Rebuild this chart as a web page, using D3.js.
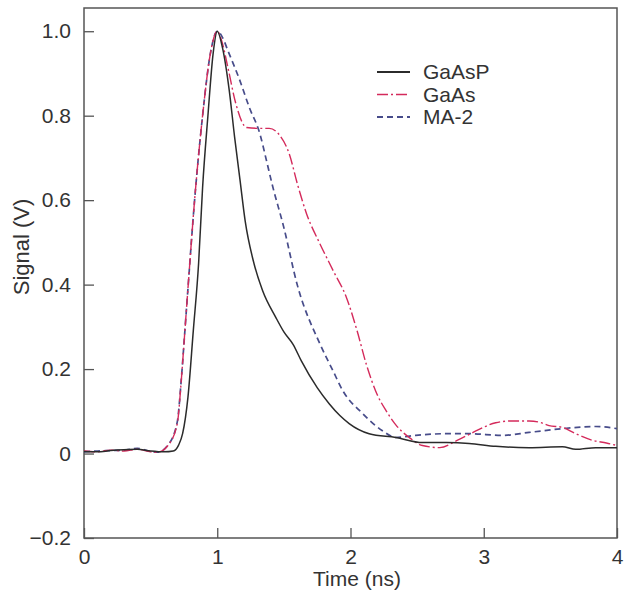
<!DOCTYPE html>
<html>
<head>
    <meta charset="utf-8">
    <title>Signal vs Time</title>
    <style>
        body { margin: 0; background: #fff; }
        svg { display: block; font-family: "Liberation Sans", Arial, Helvetica, sans-serif; }
        .frame { fill: none; stroke: #555; stroke-width: 1.5px; }
        .tick line { stroke: #555; stroke-width: 1.3px; }
        .tick text { fill: #333; font-size: 21px; }
        .domain { display: none; }
    </style>
</head>
<body>
<script src="https://d3js.org/d3.v7.min.js"></script>
<script>
    // time axis (ns) and signal values
    const gaasp_t = [0, 0.1, 0.2, 0.3, 0.4, 0.5, 0.6, 0.67, 0.71, 0.74, 0.78, 0.82, 0.86, 0.89, 0.93, 0.97, 1.0,
        1.04, 1.09, 1.13, 1.17, 1.21, 1.27, 1.34, 1.44, 1.5, 1.57, 1.63, 1.75, 1.84, 1.92, 1.99, 2.14, 2.34,
        2.54, 2.72, 2.89, 3.09, 3.34, 3.59, 3.69, 3.84, 4.0];
    const gaasp_v = [0.005, 0.004, 0.007, 0.009, 0.01, 0.006, 0.004, 0.006, 0.02, 0.047, 0.133, 0.29, 0.45, 0.63, 0.8, 0.95, 1.0,
        0.96, 0.86, 0.75, 0.65, 0.55, 0.457, 0.386, 0.322, 0.288, 0.258, 0.22, 0.156, 0.118, 0.09, 0.071, 0.047, 0.038,
        0.026, 0.026, 0.024, 0.017, 0.014, 0.016, 0.01, 0.014, 0.014];

    const gaas_t = [0, 0.1, 0.2, 0.3, 0.4, 0.5, 0.55, 0.63, 0.7, 0.73, 0.757, 0.78, 0.83, 0.89, 0.95, 1.0,
        1.04, 1.08, 1.14, 1.22, 1.31, 1.39, 1.47, 1.54, 1.6, 1.67, 1.77, 1.87, 1.97, 2.05, 2.12, 2.2, 2.27,
        2.34, 2.44, 2.54, 2.67, 2.8, 2.92, 3.09, 3.2, 3.34, 3.42, 3.49, 3.59, 3.69, 3.82, 3.92, 4.0];
    const gaas_v = [0.006, 0.004, 0.008, 0.006, 0.01, 0.004, 0.003, 0.019, 0.071, 0.173, 0.29, 0.39, 0.6, 0.8, 0.95, 1.0,
        0.97, 0.914, 0.828, 0.772, 0.77, 0.77, 0.753, 0.71, 0.64, 0.568, 0.497, 0.433, 0.369, 0.29, 0.21, 0.14, 0.1,
        0.068, 0.038, 0.019, 0.014, 0.031, 0.05, 0.073, 0.077, 0.077, 0.074, 0.066, 0.062, 0.047, 0.031, 0.025, 0.019];

    const ma2_t = [0, 0.1, 0.2, 0.3, 0.4, 0.5, 0.55, 0.63, 0.7, 0.73, 0.757, 0.78, 0.83, 0.89, 0.95, 1.0,
        1.04, 1.08, 1.17, 1.24, 1.32, 1.37, 1.41, 1.5, 1.6, 1.77, 1.87, 1.94, 2.09, 2.24, 2.34, 2.49, 2.72,
        2.89, 3.14, 3.34, 3.59, 3.84, 4.0];
    const ma2_v = [0.004, 0.006, 0.007, 0.008, 0.012, 0.005, 0.003, 0.02, 0.075, 0.175, 0.29, 0.39, 0.6, 0.8, 0.95, 1.0,
        0.985, 0.954, 0.883, 0.82, 0.757, 0.693, 0.64, 0.535, 0.4, 0.26, 0.195, 0.15, 0.095, 0.054, 0.038, 0.043, 0.047,
        0.047, 0.043, 0.05, 0.059, 0.064, 0.059];

    const seriesNames = ["GaAsP", "GaAs", "MA-2"];
    const xTicks = [0, 1, 2, 3, 4];
    const yTicks = [-0.2, 0, 0.2, 0.4, 0.6, 0.8, 1.0];

    const width = 624, height = 592;
    const margin = { top: 8, right: 7, bottom: 54, left: 84 };

    const svg = d3.select("body").append("svg")
        .attr("width", width)
        .attr("height", height);

    const x = d3.scaleLinear().domain([0, 4]).range([margin.left, width - margin.right]);
    const y = d3.scaleLinear().domain([-0.2, 1.055]).range([height - margin.bottom, margin.top]);

    // axes with inward ticks
    svg.append("g")
        .attr("transform", `translate(0,${height - margin.bottom})`)
        .call(d3.axisBottom(x).tickValues(xTicks).tickFormat(d3.format("d")).tickSizeInner(-10).tickPadding(20))
        .call(g => g.selectAll(".tick text").attr("dy", "0.3em"));

    svg.append("g")
        .attr("transform", `translate(${margin.left},0)`)
        .call(d3.axisLeft(y).tickValues(yTicks)
            .tickFormat(d => d === 0 ? "0" : (d < 0 ? "\u22120.2" : d.toFixed(1)))
            .tickSizeInner(-10).tickPadding(13));

    svg.append("rect").attr("class", "frame")
        .attr("x", margin.left).attr("y", margin.top)
        .attr("width", width - margin.left - margin.right)
        .attr("height", height - margin.top - margin.bottom);

    // axis titles
    svg.append("text")
        .attr("x", 357).attr("y", 586)
        .attr("text-anchor", "middle")
        .attr("fill", "#333").attr("font-size", 21)
        .text("Time (ns)");

    svg.append("text")
        .attr("transform", "translate(29,247) rotate(-90)")
        .attr("text-anchor", "middle")
        .attr("fill", "#333").attr("font-size", 22)
        .text("Signal (V)");

    const line = d3.line()
        .x(d => x(d[0]))
        .y(d => y(d[1]))
        .curve(d3.curveMonotoneX);

    const series = [
        { name: seriesNames[0], t: gaasp_t, v: gaasp_v, color: "#2b2b2b", dash: null, w: 1.5 },
        { name: seriesNames[1], t: gaas_t, v: gaas_v, color: "#d42a5b", dash: "11,3,2,3", w: 1.4 },
        { name: seriesNames[2], t: ma2_t, v: ma2_v, color: "#474c8a", dash: "6,4", w: 1.7 }
    ];

    // draw MA-2 first, then GaAs, then GaAsP on top
    series.slice().reverse().forEach(s => {
        svg.append("path")
            .datum(d3.zip(s.t, s.v))
            .attr("fill", "none")
            .attr("stroke", s.color)
            .attr("stroke-width", s.w)
            .attr("stroke-dasharray", s.dash)
            .attr("d", line);
    });

    // legend
    const legend = svg.append("g").attr("transform", "translate(377,72)");
    series.forEach((s, i) => {
        const row = legend.append("g").attr("transform", `translate(0,${i * 22.5})`);
        row.append("line")
            .attr("x1", 0).attr("x2", 33)
            .attr("stroke", s.color)
            .attr("stroke-width", s.w + 0.3)
            .attr("stroke-dasharray", s.dash);
        row.append("text")
            .attr("x", 46).attr("y", 0).attr("dy", "0.35em")
            .attr("fill", "#333").attr("font-size", 21)
            .text(s.name);
    });
</script>
</body>
</html>
